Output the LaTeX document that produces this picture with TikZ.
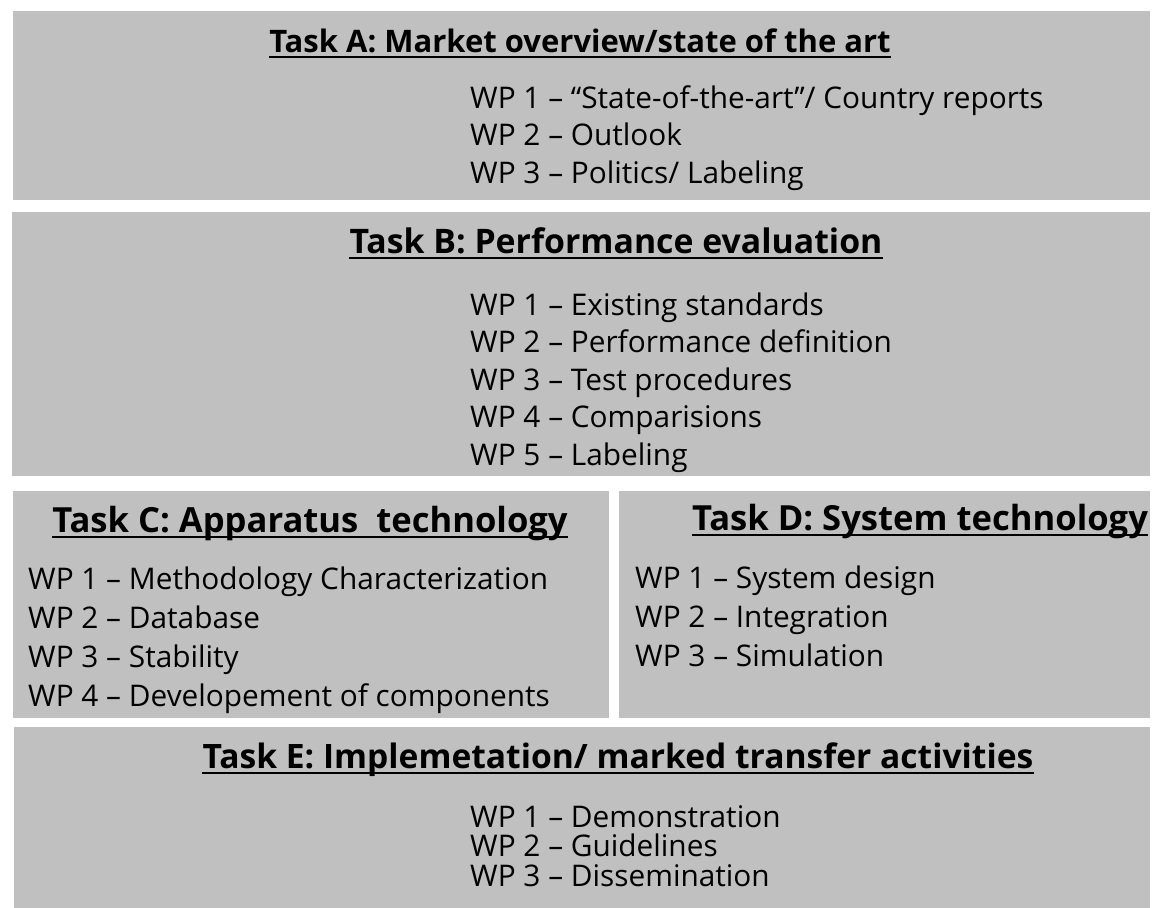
\documentclass[tikz,border=0pt]{standalone}
\usepackage{fontspec}
\setmainfont{Open Sans}
\definecolor{boxgray}{RGB}{192,192,192}

\tikzset{
		panel/.style   = {fill=boxgray, draw=none},
		title/.style   = {font=\bfseries\fontsize{#1}{#1}\selectfont, anchor=base, inner sep=0pt},
		title/.default = 34,
		wp/.style      = {font=\fontsize{29.8}{34}\selectfont, anchor=base west, inner sep=0pt},
		uline/.style   = {line width=2.8pt}
	}

\begin{document}
\begin{tikzpicture}[x=1pt, y=-1pt]
		\useasboundingbox (0,0) rectangle (1152,908);
		
		% grey panels, one per task
		\path[panel] (13,11) rectangle (1150,200);
		\path[panel] (12,212) rectangle (1150,476);
		\path[panel] (13,491) rectangle (609,718);
		\path[panel] (619,491) rectangle (1150,718);
		\path[panel] (14,727) rectangle (1150,908);
		
		% task titles
		\node[title=31] (tA) at (580,52) {Task A: Market overview/state of the art};
		\node[title=33.8] (tB) at (616,253) {Task B: Performance evaluation};
		\node[title=34.6] (tC) at (310,532) {Task C: Apparatus~ technology};
		\node[title=34.6] (tD) at (920,530) {Task D: System technology};
		\node[title=33.6] (tE) at (618,768) {Task E: Implemetation/ marked transfer activities};
		
		\foreach \t in {tA,tB,tC,tD,tE}
		\draw[uline] ([yshift=-5pt]\t.base west) -- ([yshift=-5pt]\t.base east);
		
		% work packages of every task
		\foreach \txt [count=\i] in {WP 1 -- “State-of-the-art”/ Country reports, WP 2 -- Outlook, WP 3 -- Politics/ Labeling}
		\node[wp] (a\i) at (470,{108+37.5*(\i-1)}) {\txt};
		
		\foreach \txt [count=\i] in {WP 1 -- Existing standards, WP 2 -- Performance definition, WP 3 -- Test procedures, WP 4 -- Comparisions, WP 5 -- Labeling}
		\node[wp] (b\i) at (470,{315+37.5*(\i-1)}) {\txt};
		
		\foreach \txt [count=\i] in {WP 1 -- Methodology Characterization, WP 2 -- Database, WP 3 -- Stability, WP 4 -- Developement of components}
		\node[wp] (c\i) at (28,{589+39*(\i-1)}) {\txt};
		
		\foreach \txt [count=\i] in {WP 1 -- System design, WP 2 -- Integration, WP 3 -- Simulation}
		\node[wp] (d\i) at (635,{588+39*(\i-1)}) {\txt};
		
		\foreach \txt [count=\i] in {WP 1 -- Demonstration, WP 2 -- Guidelines, WP 3 -- Dissemination}
		\node[wp] (e\i) at (470,{827+29.5*(\i-1)}) {\txt};
		
	\end{tikzpicture}
\end{document}
